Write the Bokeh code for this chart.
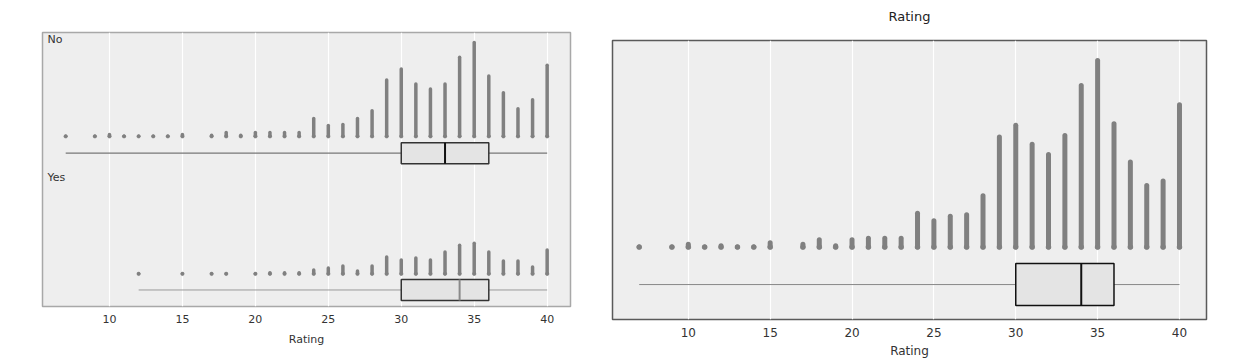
from bokeh.plotting import figure
from bokeh.layouts import row
from bokeh.models import Range1d, Label, FixedTicker
from bokeh.embed import file_html
from bokeh.resources import INLINE

# ---- data ----
ratings = [7, 9, 10, 11, 12, 13, 14, 15, 17, 18, 19, 20, 21, 22, 23,
           24, 25, 26, 27, 28, 29, 30, 31, 32, 33, 34, 35, 36, 37, 38, 39, 40]
no_counts = [1, 1, 3, 1, 1, 1, 1, 3, 2, 5, 2, 5, 5, 5, 5,
             19, 12, 13, 19, 27, 58, 69, 54, 49, 54, 81, 96, 62, 45, 29, 38, 73]
yes_counts = [0, 0, 0, 0, 1, 0, 0, 1, 1, 1, 0, 1, 2, 2, 2,
              5, 7, 9, 4, 9, 18, 15, 17, 15, 23, 30, 32, 23, 14, 14, 8, 25]
all_counts = [a + b for a, b in zip(no_counts, yes_counts)]

groups = ["No", "Yes", "All"]
box_min = [7, 12, 7]
box_q1 = [30, 30, 30]
box_med = [33, 34, 34]
box_q3 = [36, 36, 36]
box_max = [40, 40, 40]

tick_values = [10, 15, 20, 25, 30, 35, 40]
x_label = "Rating"

STACK = "#808080"
BG = "#eeeeee"
FONT = "DejaVu Sans"


def draw_stacks(p, xs, counts, base, width):
    sx = [x for x, c in zip(xs, counts) if c > 0]
    sc = [c for c in counts if c > 0]
    y0 = [base] * len(sx)
    y1 = [base + (c - 1) for c in sc]
    p.segment(x0=sx, y0=y0, x1=sx, y1=y1, line_width=width,
              line_cap="round", line_color=STACK)
    p.scatter(sx, y0, size=width, fill_color=STACK, line_color=STACK, line_width=0.5)


def draw_box(p, i, center, half, med_color, box_line, whisk_color, whisk_w):
    p.segment(x0=[box_min[i]], y0=[center], x1=[box_max[i]], y1=[center],
              line_color=whisk_color, line_width=whisk_w)
    p.quad(left=[box_q1[i]], right=[box_q3[i]], bottom=[center - half], top=[center + half],
           fill_color="#e4e4e4", line_color=box_line, line_width=1.5)
    p.segment(x0=[box_med[i]], y0=[center - half], x1=[box_med[i]], y1=[center + half],
              line_color=med_color, line_width=2)


def style(p, outline, tick_size, label_size, label_standoff):
    p.background_fill_color = BG
    p.border_fill_color = "white"
    p.outline_line_color = outline
    p.outline_line_width = 1.5
    p.yaxis.visible = False
    p.ygrid.grid_line_color = None
    p.xgrid.grid_line_color = "white"
    p.xgrid.grid_line_width = 1.2
    p.xaxis.ticker = FixedTicker(ticks=tick_values)
    p.xaxis.axis_line_color = None
    p.xaxis.major_tick_line_color = None
    p.xaxis.major_tick_out = 0
    p.xaxis.major_tick_in = 0
    p.xaxis.minor_tick_line_color = None
    p.xaxis.minor_tick_out = 0
    p.xaxis.major_label_text_font = FONT
    p.xaxis.major_label_text_font_size = tick_size
    p.xaxis.major_label_text_color = "#333333"
    p.xaxis.major_label_standoff = 8
    p.xaxis.axis_label = x_label
    p.xaxis.axis_label_text_font = FONT
    p.xaxis.axis_label_text_font_size = label_size
    p.xaxis.axis_label_text_font_style = "normal"
    p.xaxis.axis_label_text_color = "#333333"
    p.xaxis.axis_label_standoff = label_standoff


# ---- left: split by No / Yes ----
left = figure(width=598, height=362, output_backend="svg", toolbar_location=None,
              x_range=Range1d(5.41, 41.6), y_range=Range1d(0, 277),
              min_border_left=42, min_border_right=28, min_border_top=32,
              min_border_bottom=40, margin=(-14, 0, 0, 0))
style(left, "#a8a8a8", "11px", "11px", 7)
draw_stacks(left, ratings, no_counts, 172, 3.5)
draw_stacks(left, ratings, yes_counts, 33, 3.5)
draw_box(left, 0, 155, 10.6, "#111111", "#333333", "#777777", 1.3)
draw_box(left, 1, 16.7, 10.6, "#8a8a8a", "#333333", "#999999", 1)
for txt, yy in [("No", 276), ("Yes", 137)]:
    left.add_layout(Label(x=5.75, y=yy, text=txt, text_font=FONT, text_font_size="11px",
                          text_color="#333333", text_baseline="top"))

# ---- right: all ----
right = figure(width=638, height=367, output_backend="svg", toolbar_location=None,
               x_range=Range1d(5.37, 41.65), y_range=Range1d(0, 190),
               min_border_left=14, min_border_right=30, min_border_top=32,
               min_border_bottom=40, title=x_label, margin=(-6, 0, 0, 0))
style(right, "#5a5a5a", "12px", "12px", 4)
right.title.align = "center"
right.title.vertical_align = "top"
right.title.text_font = FONT
right.title.text_font_size = "13px"
right.title.text_font_style = "normal"
right.title.text_color = "#222222"
right.title.standoff = 29
draw_stacks(right, ratings, all_counts, 49.3, 5)
draw_box(right, 2, 23.8, 14.3, "#111111", "#111111", "#888888", 1)

layout = row(left, right)
open("out.html", "w").write(file_html(layout, INLINE))
